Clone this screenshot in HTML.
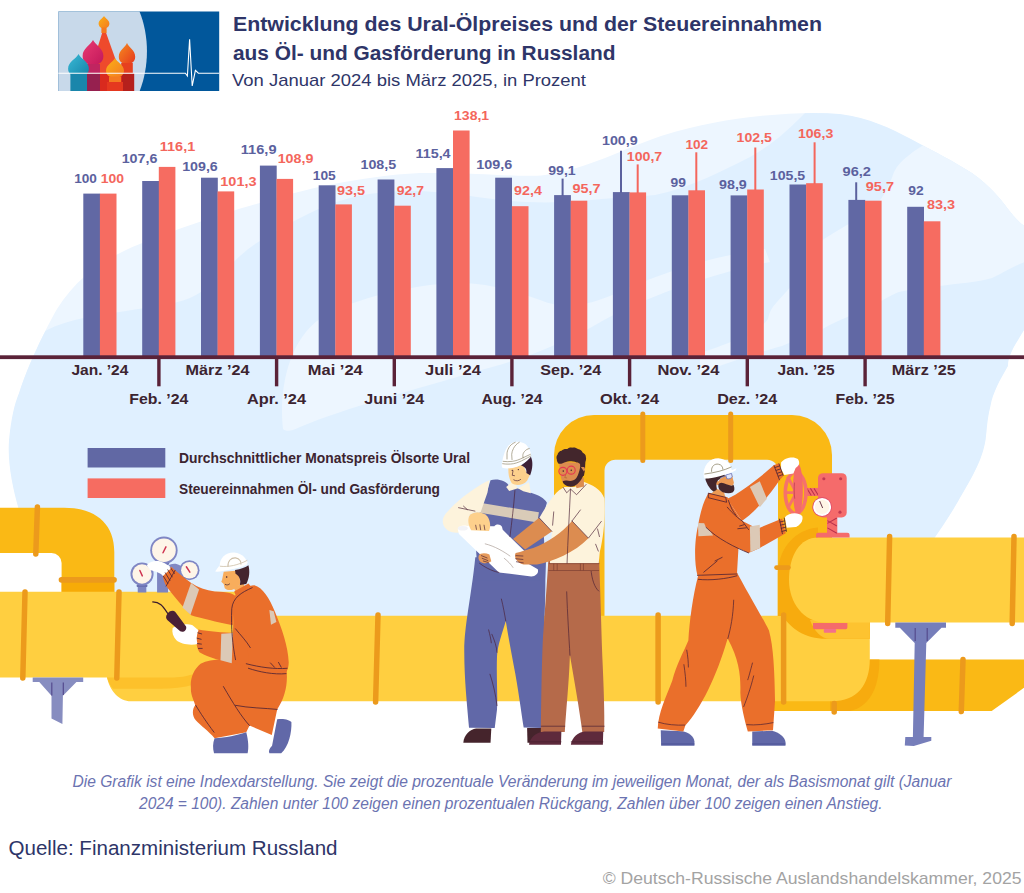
<!DOCTYPE html>
<html lang="de"><head><meta charset="utf-8"><title>Ural-Ölpreis und Steuereinnahmen</title>
<style>
html,body{margin:0;padding:0;background:#fff;}
body{width:1024px;height:893px;overflow:hidden;font-family:"Liberation Sans",sans-serif;}
svg{display:block;font-family:"Liberation Sans",sans-serif;}
</style></head><body>
<svg width="1024" height="893" viewBox="0 0 1024 893">
<rect width="1024" height="893" fill="#ffffff"/>
<!-- background blob -->
<g>
<defs><clipPath id="blobclip"><path d="M22 520 C14 495 7 465 9 440 C11 420 14 405 19 393 C28 365 45 330 57 309 C75 280 100 262 126 250 C160 235 220 214 260 203 C300 190 360 176 420 173 C480 172 520 178 545 175 C590 168 620 150 661 136 C700 124 730 119 760 116 C790 113 815 112 840 114 C870 118 890 128 911 139 C935 152 955 162 972 173 C990 186 1000 198 1008 209 C1016 219 1020 223 1026 227 V327 C1015 345 1008 355 1008 366 C1000 380 993 392 990.5 406 C987 420 987 430 985.6 440 C983 455 978 465 973 475 C966 488 960 498 953.6 509 C947 520 940 530 934 538.7 V617 H63 V545 H22 Z"/></clipPath></defs>
<path d="M22 520 C14 495 7 465 9 440 C11 420 14 405 19 393 C28 365 45 330 57 309 C75 280 100 262 126 250 C160 235 220 214 260 203 C300 190 360 176 420 173 C480 172 520 178 545 175 C590 168 620 150 661 136 C700 124 730 119 760 116 C790 113 815 112 840 114 C870 118 890 128 911 139 C935 152 955 162 972 173 C990 186 1000 198 1008 209 C1016 219 1020 223 1026 227 V327 C1015 345 1008 355 1008 366 C1000 380 993 392 990.5 406 C987 420 987 430 985.6 440 C983 455 978 465 973 475 C966 488 960 498 953.6 509 C947 520 940 530 934 538.7 V617 H63 V545 H22 Z" fill="#edf6ff"/>
<g clip-path="url(#blobclip)">
<path d="M22 520 C14 495 7 465 9 440 C11 420 14 405 19 393 C26 370 36 348 45 331 C70 318 100 315 126 311 C150 307 172 305 190 298 C208 290 218 278 228 268 C240 255 250 247 260 241 C290 222 320 206 350 198 C390 188 430 190 470 196 C510 202 540 204 580 201 C610 198 635 197 655 195 C690 188 720 172 750 157 C775 143 790 128 805 113 C820 112 830 113 840 114 C870 118 890 128 911 139 C935 152 955 162 972 173 C990 186 1000 198 1008 209 C1016 219 1020 223 1026 227 V327 C1015 345 1008 355 1008 366 C1000 380 993 392 990.5 406 C987 420 987 430 985.6 440 C983 455 978 465 973 475 C966 488 960 498 953.6 509 C947 520 940 530 934 538.7 V617 H63 V545 H22 Z" fill="#e0f0ff"/>
<!-- lighter river top right -->
<path d="M930 141 C915 150 900 160 894 172 C888 190 880 202 873 208 C860 218 845 226 824 239 C812 250 800 272 791 286 C780 300 770 306 768 319 C760 330 745 340 731 342 C720 346 710 350 700 353 L700 373 C730 362 760 352 782 346 C795 340 806 337 815 334 C826 326 836 322 845 318 C856 313 866 310 876 304 C890 296 896 292 904 291 C920 288 930 287 940 286 C960 283 980 282 992 278 C1005 272 1015 265 1030 260 V120 H930 Z" fill="#edf6ff"/>
<!-- lighter lens middle -->
<path d="M283 429 C279 395 286 342 321 318 C350 300 400 288 440 284 C480 280 510 290 540 300 C560 308 580 308 610 296 C650 278 700 258 765 249 L770 262 C705 275 645 298 604 320 C560 346 520 360 474 372 C420 388 345 408 300 427 C293 431 286 432 283 429 Z" fill="#edf6ff"/>
</g>
</g>

<!-- logo -->
<g>
<defs><clipPath id="lgc"><rect x="58.4" y="11.4" width="160.8" height="79.6"/></clipPath>
<linearGradient id="dm1" x1="0" y1="0" x2="1" y2="1"><stop offset="0" stop-color="#fbb116"/><stop offset="1" stop-color="#f37a21"/></linearGradient>
<linearGradient id="dm2" x1="0" y1="0" x2="1" y2="1"><stop offset="0" stop-color="#ea3a72"/><stop offset="1" stop-color="#c2185b"/></linearGradient>
<linearGradient id="dm3" x1="0" y1="0" x2="1" y2="1"><stop offset="0" stop-color="#3bbad6"/><stop offset="1" stop-color="#1583a8"/></linearGradient>
<linearGradient id="dm4" x1="0" y1="0" x2="1" y2="1"><stop offset="0" stop-color="#f68b1f"/><stop offset="1" stop-color="#e5381f"/></linearGradient>
</defs>
<g clip-path="url(#lgc)">
<rect x="58" y="11" width="162" height="81" fill="#01579b"/>
<path d="M58 11H139.3C149.5 36 149.5 66 139.3 92H58Z" fill="#c8d9ea"/>
<!-- central tower -->
<path d="M104 27 L120 72 L120 92 L90 92 L90 72 Z" fill="#ee4a2c"/>
<path d="M104 16c1.700000000000003 2.700000000000003 5.4 4.2 5.4 7.6c0 3.200000000000003-2.400000000000002 4.800000000000001-5.4 4.800000000000001s-5.4-1.600000000000001-5.4-4.8c0-3.400000000000002 3.700000000000003-4.900000000000002 5.4-7.6z" fill="url(#dm1)"/>
<rect x="101.4" y="27.5" width="5.2" height="5.5" fill="#f47a20"/>
<!-- pink dome -->
<path d="M93 40c2.400000000000002 5.2 10.4 8.2 10.4 16c0 6.2-4.6 8.8-10.4 8.8s-10.4-2.600000000000001-10.4-8.8c0-7.800000000000004 8-10.8 10.4-16z" fill="url(#dm2)"/>
<rect x="85" y="64" width="15" height="9.2" fill="#c02560"/>
<rect x="85" y="73.2" width="15" height="19" fill="#96204f"/>
<!-- right orange dome -->
<path d="M127 43c2 4.6 8.2 7.2 8.2 13.8c0 5.2-3.700000000000003 7.2-8.2 7.2s-8.2-2-8.2-7.2c0-6.600000000000001 6.2-9.2 8.2-13.8z" fill="url(#dm4)"/>
<rect x="121.2" y="63" width="11.6" height="10.2" fill="#e6401f"/>
<rect x="121.2" y="73.2" width="13" height="19" fill="#b5201c"/>
<rect x="100" y="73.2" width="22" height="19" fill="#d92a1e"/>
<!-- teal dome -->
<path d="M78.5 54c2.400000000000002 5 10.4 7.6 10.4 14.8c0 5.600000000000001-4.700000000000003 7.600000000000001-10.4 7.600000000000001s-10.4-2-10.4-7.600000000000001c0-7.200000000000003 8-9.8 10.4-14.8z" fill="url(#dm3)"/>
<rect x="70.4" y="73.2" width="16.6" height="19" fill="#1a86ab"/>
<!-- yellow dome -->
<path d="M115 58c2 4.2 9 6.6 9 12.8c0 4.800000000000001-4.200000000000003 6.8-9 6.8s-9-2-9-6.8c0-6.200000000000003 7-8.600000000000001 9-12.8z" fill="url(#dm1)"/>
<rect x="109" y="76.5" width="12" height="6" fill="#f47a20"/>
<rect x="107" y="82" width="16" height="10" fill="#e5381f"/>
<path d="M58 73.2H185.4l2 2.800000000000001l2.200000000000003-36.8l2.6 46.8l3.200000000000003-15.600000000000001l3 2.8H220" fill="none" stroke="#fff" stroke-width="1.1" stroke-linejoin="miter"/>
</g>
</g>

<!-- title -->
<g fill="#2e3568">
<text x="233" y="31" font-weight="bold" font-size="20" textLength="589" lengthAdjust="spacingAndGlyphs">Entwicklung des Ural-Ölpreises und der Steuereinnahmen</text>
<text x="233" y="60" font-weight="bold" font-size="20" textLength="382.5" lengthAdjust="spacingAndGlyphs">aus Öl- und Gasförderung in Russland</text>
<text x="232" y="85.8" font-size="16.6" textLength="354" lengthAdjust="spacingAndGlyphs">Von Januar 2024 bis März 2025, in Prozent</text>
</g>

<!-- pipes back -->
<g>
<!-- arch pipe (dark) -->
<path d="M554 640 V455 A40 40 0 0 1 594 415 H792 A40 40 0 0 1 832 455 V620 H778 V472 A11 11 0 0 0 767 459.7 H616 A11 11 0 0 0 604.5 471 V640 Z" fill="#fab915"/>
<!-- arch rings -->
<g stroke="#ec9a1c" stroke-width="5" stroke-linecap="round">
<line x1="642.8" y1="414" x2="642.8" y2="460.5"/>
<line x1="730.7" y1="414" x2="730.7" y2="460.5"/>
</g>
<!-- upper-left pipe (dark) -->
<path d="M0 507.7 H64 C96 507.7 114.3 524 114.3 552 V594 H61.6 V563 A10 10 0 0 0 51.6 553.1 H0 Z" fill="#fab915"/>
<rect x="61.6" y="582" width="52.7" height="12" fill="#f7ab07"/>
<g stroke="#ec9a1c" stroke-linecap="round">
<line x1="37.4" y1="507" x2="35.8" y2="554" stroke-width="5.5"/>
<line x1="61.5" y1="579.8" x2="114" y2="579.8" stroke-width="5.7"/>
</g>
<!-- dark back pipe bottom right -->
<path d="M770 659.6 H1024 V687.8 L991.7 711.1 H770 Z" fill="#fab915"/>
<!-- elbow band bottom -->
<path d="M869.8 659.5 H879.4 C879.4 690 868 707 850 711 H830 V700 Z" fill="#f7ab0e"/>
<!-- main light pipe -->
<path d="M0 591.7 H236 C256 592 252 615.7 272 615.7 H869.8 V659 C869.8 685 857 701.3 832 701.3 H131 C119 701.3 110 691 107 677.5 H0 Z" fill="#ffcf40"/>
<path d="M107 677.5 H170 C180 677.5 186 676.5 194 674 V684.5 C184 687.5 172 688.7 160 688.7 H113 C110.5 686 108.5 682 107 677.5 Z" fill="#fdc12b"/>
<!-- right leg down + band -->
<path d="M777.8 530 H832 V616 H777.8 Z" fill="#fab915"/>
<path d="M818 527.5 C796 529 777.8 548 777.8 575 V616 H783 C790 628 805 638.8 826 638.8 H869.8 V616 H818 Z" fill="#f7ab0e"/>
<path d="M810 620 C814 631 821 638.8 830 638.8 H869.8 V620 Z" fill="#fdc330"/>
<!-- big right light pipe with cap -->
<path d="M1024 537.4 H818 C800 537.4 789 555 789 580 C789 602 803 622.6 826 622.6 H1024 Z" fill="#ffcf40"/>
<!-- rings -->
<g stroke="#ec9a1c" stroke-linecap="round" stroke-width="5.5">
<line x1="25" y1="592" x2="22.8" y2="678"/>
<line x1="119" y1="592" x2="116.8" y2="678"/>
<line x1="658.1" y1="615" x2="658.1" y2="702"/>
<line x1="378" y1="615" x2="375.6" y2="702"/>
<line x1="783.6" y1="615" x2="783.6" y2="702"/>
<line x1="889.6" y1="536.5" x2="887.7" y2="623.5"/>
<line x1="1014" y1="536.5" x2="1012.2" y2="623.5"/>
<line x1="963" y1="659.5" x2="961.3" y2="711.5"/>
<line x1="834.2" y1="703.5" x2="834.2" y2="712"/>
<line x1="776.5" y1="567.6" x2="788.5" y2="567.6" stroke-width="4.6"/>
</g>
<!-- red flanges -->
<path d="M816 537.5 V535 a2.200000000000001 2.2 0 0 1 2.2-2.2 H847.4 a2.2 2.2 0 0 1 2.2 2.2 V537.5 Z" fill="#f56b6b"/>
<path d="M813 623.1 H847.4 V627.5 a1.7 1.7 0 0 1-1.7 1.7 H814.7 a1.7 1.7 0 0 1-1.7-1.7 Z" fill="#f56b6b"/>
<rect x="823.8" y="629" width="12.3" height="3.8" rx="1" fill="#f3708a"/>
<!-- supports -->
<g fill="#767eba">
<path d="M32.7 677.4 H83.2 V682 H76.4 L62.9 695.8 L62.4 724 L51.5 718.4 V695.8 L39.3 682 H32.7 Z" fill="#878dc0"/>
<path d="M895.3 622.6 H946 V627.8 H941.5 L926.3 643 L923.6 737.1 H931.3 V740.7 L913.8 746.1 L904.8 745.5 L905.3 737.1 H912.9 L914.7 643 L899.8 627.8 H895.3 Z"/>
</g>
<g stroke="#554b8e" stroke-width="1.2" fill="none">
<path d="M51.8 682.5 V695.5 M63.3 682.5 V695"/>
<path d="M915.2 628 V641 M927.2 628 V641"/>
</g>
</g>

<!-- chart -->
<g>
<rect x="83.3" y="193.6" width="16.8" height="162.9" fill="#6168a4"/>
<rect x="99.9" y="193.6" width="16.6" height="162.9" fill="#f66c61"/>
<rect x="142.2" y="181.0" width="16.8" height="175.5" fill="#6168a4"/>
<rect x="158.8" y="166.9" width="16.6" height="189.6" fill="#f66c61"/>
<rect x="201.0" y="177.7" width="16.8" height="178.8" fill="#6168a4"/>
<rect x="217.6" y="191.4" width="16.6" height="165.1" fill="#f66c61"/>
<rect x="259.9" y="165.6" width="16.8" height="190.9" fill="#6168a4"/>
<rect x="276.5" y="178.9" width="16.6" height="177.6" fill="#f66c61"/>
<rect x="318.7" y="185.3" width="16.8" height="171.2" fill="#6168a4"/>
<rect x="335.3" y="204.4" width="16.6" height="152.1" fill="#f66c61"/>
<rect x="377.6" y="179.5" width="16.8" height="177.0" fill="#6168a4"/>
<rect x="394.2" y="205.7" width="16.6" height="150.8" fill="#f66c61"/>
<rect x="436.4" y="168.1" width="16.8" height="188.4" fill="#6168a4"/>
<rect x="453.0" y="130.5" width="16.6" height="226.0" fill="#f66c61"/>
<rect x="495.2" y="177.7" width="16.8" height="178.8" fill="#6168a4"/>
<rect x="511.9" y="206.2" width="16.6" height="150.3" fill="#f66c61"/>
<rect x="554.1" y="195.1" width="16.8" height="161.4" fill="#6168a4"/>
<rect x="570.7" y="200.7" width="16.6" height="155.8" fill="#f66c61"/>
<rect x="612.9" y="192.1" width="16.8" height="164.4" fill="#6168a4"/>
<rect x="629.5" y="192.4" width="16.6" height="164.1" fill="#f66c61"/>
<rect x="671.8" y="195.3" width="16.8" height="161.2" fill="#6168a4"/>
<rect x="688.4" y="190.3" width="16.6" height="166.2" fill="#f66c61"/>
<rect x="730.6" y="195.4" width="16.8" height="161.1" fill="#6168a4"/>
<rect x="747.2" y="189.5" width="16.6" height="167.0" fill="#f66c61"/>
<rect x="789.5" y="184.5" width="16.8" height="172.0" fill="#6168a4"/>
<rect x="806.1" y="183.2" width="16.6" height="173.3" fill="#f66c61"/>
<rect x="848.4" y="199.9" width="16.8" height="156.6" fill="#6168a4"/>
<rect x="865.0" y="200.7" width="16.6" height="155.8" fill="#f66c61"/>
<rect x="907.2" y="206.8" width="16.8" height="149.7" fill="#6168a4"/>
<rect x="923.8" y="221.3" width="16.6" height="135.2" fill="#f66c61"/>
</g>
<g><line x1="562.6" y1="178.6" x2="562.6" y2="196" stroke="#5b619e" stroke-width="2"/>
<line x1="621" y1="150.8" x2="621" y2="193" stroke="#5b619e" stroke-width="2"/>
<line x1="637.7" y1="164.4" x2="637.7" y2="193" stroke="#f4665c" stroke-width="2"/>
<line x1="696.3" y1="152.3" x2="696.3" y2="191" stroke="#f4665c" stroke-width="2"/>
<line x1="755.3" y1="147.5" x2="755.3" y2="190" stroke="#f4665c" stroke-width="2"/>
<line x1="814.6" y1="142.3" x2="814.6" y2="184" stroke="#f4665c" stroke-width="2"/>
<line x1="856.2" y1="182.3" x2="856.2" y2="200" stroke="#5b619e" stroke-width="2"/></g>
<g><rect x="0" y="355.3" width="1024" height="3.8" fill="#5a2238"/>
<rect x="157.2" y="357" width="3.4" height="29.3" fill="#5a2238"/>
<rect x="274.9" y="357" width="3.4" height="29.3" fill="#5a2238"/>
<rect x="392.6" y="357" width="3.4" height="29.3" fill="#5a2238"/>
<rect x="510.2" y="357" width="3.4" height="29.3" fill="#5a2238"/>
<rect x="627.9" y="357" width="3.4" height="29.3" fill="#5a2238"/>
<rect x="745.6" y="357" width="3.4" height="29.3" fill="#5a2238"/>
<rect x="863.4" y="357" width="3.4" height="29.3" fill="#5a2238"/></g>
<g font-weight="bold" font-size="13.2">
<text x="74.2" y="182.6" fill="#5b619e" textLength="22.7" lengthAdjust="spacingAndGlyphs">100</text>
<text x="100.8" y="182.6" fill="#f4665c" textLength="23.3" lengthAdjust="spacingAndGlyphs">100</text>
<text x="121.7" y="162.6" fill="#5b619e" textLength="35.7" lengthAdjust="spacingAndGlyphs">107,6</text>
<text x="159.8" y="150.5" fill="#f4665c" textLength="35.4" lengthAdjust="spacingAndGlyphs">116,1</text>
<text x="182.2" y="171.4" fill="#5b619e" textLength="35.6" lengthAdjust="spacingAndGlyphs">109,6</text>
<text x="220.3" y="185.6" fill="#f4665c" textLength="36.3" lengthAdjust="spacingAndGlyphs">101,3</text>
<text x="240.8" y="154.4" fill="#5b619e" textLength="35.7" lengthAdjust="spacingAndGlyphs">116,9</text>
<text x="277.7" y="162.9" fill="#f4665c" textLength="35.7" lengthAdjust="spacingAndGlyphs">108,9</text>
<text x="312.8" y="180.1" fill="#5b619e" textLength="23.0" lengthAdjust="spacingAndGlyphs">105</text>
<text x="336.9" y="195.3" fill="#f4665c" textLength="28.1" lengthAdjust="spacingAndGlyphs">93,5</text>
<text x="360.5" y="168.6" fill="#5b619e" textLength="35.7" lengthAdjust="spacingAndGlyphs">108,5</text>
<text x="396.8" y="195.3" fill="#f4665c" textLength="27.2" lengthAdjust="spacingAndGlyphs">92,7</text>
<text x="415.5" y="157.5" fill="#5b619e" textLength="35.1" lengthAdjust="spacingAndGlyphs">115,4</text>
<text x="454.1" y="119.5" fill="#f4665c" textLength="35.0" lengthAdjust="spacingAndGlyphs">138,1</text>
<text x="476.3" y="168.6" fill="#5b619e" textLength="36.0" lengthAdjust="spacingAndGlyphs">109,6</text>
<text x="514.1" y="194.6" fill="#f4665c" textLength="27.8" lengthAdjust="spacingAndGlyphs">92,4</text>
<text x="548.2" y="174.5" fill="#5b619e" textLength="27.5" lengthAdjust="spacingAndGlyphs">99,1</text>
<text x="572.4" y="192.9" fill="#f4665c" textLength="28.1" lengthAdjust="spacingAndGlyphs">95,7</text>
<text x="602.0" y="144.8" fill="#5b619e" textLength="35.7" lengthAdjust="spacingAndGlyphs">100,9</text>
<text x="626.8" y="160.5" fill="#f4665c" textLength="35.4" lengthAdjust="spacingAndGlyphs">100,7</text>
<text x="670.6" y="187.1" fill="#5b619e" textLength="15.4" lengthAdjust="spacingAndGlyphs">99</text>
<text x="685.4" y="149.0" fill="#f4665c" textLength="22.7" lengthAdjust="spacingAndGlyphs">102</text>
<text x="719.0" y="188.6" fill="#5b619e" textLength="27.8" lengthAdjust="spacingAndGlyphs">98,9</text>
<text x="736.6" y="142.3" fill="#f4665c" textLength="35.4" lengthAdjust="spacingAndGlyphs">102,5</text>
<text x="769.8" y="180.1" fill="#5b619e" textLength="35.4" lengthAdjust="spacingAndGlyphs">105,5</text>
<text x="797.9" y="137.8" fill="#f4665c" textLength="35.4" lengthAdjust="spacingAndGlyphs">106,3</text>
<text x="842.6" y="175.6" fill="#5b619e" textLength="28.4" lengthAdjust="spacingAndGlyphs">96,2</text>
<text x="865.8" y="191.3" fill="#f4665c" textLength="28.2" lengthAdjust="spacingAndGlyphs">95,7</text>
<text x="908.2" y="195.3" fill="#5b619e" textLength="15.4" lengthAdjust="spacingAndGlyphs">92</text>
<text x="926.9" y="208.9" fill="#f4665c" textLength="28.1" lengthAdjust="spacingAndGlyphs">83,3</text>
</g>
<g font-weight="bold" font-size="15.5" fill="#3c2430">
<text x="99.9" y="375.2" text-anchor="middle" textLength="57" lengthAdjust="spacingAndGlyphs">Jan. ’24</text>
<text x="158.8" y="403.6" text-anchor="middle" textLength="59" lengthAdjust="spacingAndGlyphs">Feb. ’24</text>
<text x="217.6" y="375.2" text-anchor="middle" textLength="64" lengthAdjust="spacingAndGlyphs">März ’24</text>
<text x="276.5" y="403.6" text-anchor="middle" textLength="59" lengthAdjust="spacingAndGlyphs">Apr. ’24</text>
<text x="335.3" y="375.2" text-anchor="middle" textLength="55" lengthAdjust="spacingAndGlyphs">Mai ’24</text>
<text x="394.2" y="403.6" text-anchor="middle" textLength="60" lengthAdjust="spacingAndGlyphs">Juni ’24</text>
<text x="453.0" y="375.2" text-anchor="middle" textLength="56" lengthAdjust="spacingAndGlyphs">Juli ’24</text>
<text x="511.9" y="403.6" text-anchor="middle" textLength="61" lengthAdjust="spacingAndGlyphs">Aug. ’24</text>
<text x="570.7" y="375.2" text-anchor="middle" textLength="61" lengthAdjust="spacingAndGlyphs">Sep. ’24</text>
<text x="629.5" y="403.6" text-anchor="middle" textLength="59" lengthAdjust="spacingAndGlyphs">Okt. ’24</text>
<text x="688.4" y="375.2" text-anchor="middle" textLength="62" lengthAdjust="spacingAndGlyphs">Nov. ’24</text>
<text x="747.2" y="403.6" text-anchor="middle" textLength="60" lengthAdjust="spacingAndGlyphs">Dez. ’24</text>
<text x="806.1" y="375.2" text-anchor="middle" textLength="57" lengthAdjust="spacingAndGlyphs">Jan. ’25</text>
<text x="865.0" y="403.6" text-anchor="middle" textLength="59" lengthAdjust="spacingAndGlyphs">Feb. ’25</text>
<text x="923.8" y="375.2" text-anchor="middle" textLength="64" lengthAdjust="spacingAndGlyphs">März ’25</text>
</g>
<!-- legend -->
<g>
<rect x="87.6" y="448" width="77.7" height="19.5" fill="#6168a4"/>
<rect x="87.6" y="478.4" width="77.7" height="19.6" fill="#f66c61"/>
<g font-weight="bold" font-size="14.2" fill="#3c2430">
<text x="179" y="462.5" textLength="291" lengthAdjust="spacingAndGlyphs">Durchschnittlicher Monatspreis Ölsorte Ural</text>
<text x="179" y="493.5" textLength="261" lengthAdjust="spacingAndGlyphs">Steuereinnahmen Öl- und Gasförderung</text>
</g>
</g>

<!-- people -->
<g transform="translate(120,520) scale(0.268657)">
<!-- gauges -->
<g>
<rect x="66" y="240" width="32" height="30" fill="#7d85c1"/>
<rect x="62" y="240" width="40" height="9" rx="2" fill="#6a71b2"/>
<rect x="138" y="150" width="41" height="120" fill="#7d85c1"/>
<rect x="134" y="158" width="49" height="8" fill="#6a71b2"/>
<path d="M179 172 C196 156 228 162 240 190 L215 218 C205 202 192 198 179 206 Z" fill="#8088c4"/>
<circle cx="163.5" cy="112.5" r="51" fill="#7f86c4"/><circle cx="163.5" cy="112.5" r="44" fill="#fef5e8"/>
<circle cx="82" cy="201" r="43" fill="#7f86c4"/><circle cx="82" cy="201" r="36" fill="#fef5e8"/>
<circle cx="258.5" cy="187" r="37.5" fill="#7f86c4"/><circle cx="258.5" cy="187" r="31" fill="#fef5e8"/>
<g stroke="#cf3350" stroke-width="5.5" stroke-linecap="round">
<line x1="160" y1="122" x2="171" y2="100"/><line x1="74" y1="188" x2="83" y2="208"/><line x1="247" y1="174" x2="260" y2="194"/>
</g>
</g>
<!-- back boot -->
<path d="M585 742 C610 738 632 745 638 752 C640 790 628 845 600 868 L556 868 C552 860 556 850 566 840 Z" fill="#6168a8"/>
<!-- legs -->
<path d="M300 535 C275 555 260 590 264 625 C262 650 276 672 280 690 C268 705 268 730 282 745 C300 765 330 785 352 812 L470 790 L482 765 L565 800 L585 705 C615 660 625 610 620 560 L470 530 C400 515 340 515 300 535 Z" fill="#ea6f2b"/>
<!-- front boot -->
<path d="M352 812 C345 830 345 850 350 868 L475 868 C480 850 478 820 470 790 C440 800 390 812 352 812 Z" fill="#6168a8"/>
<!-- torso -->
<path d="M425 283 C450 272 475 243 500 243 C530 250 557 292 577 342 C602 402 626 470 628 530 C627 556 620 572 600 578 L478 552 C440 540 420 520 418 500 Z" fill="#ea6f2b"/>
<!-- raised arm -->
<path d="M190 174 C176 180 160 196 160 210 C162 225 168 238 172 246 C200 285 240 330 265 355 C300 366 360 380 420 392 L432 287 C425 272 400 268 353 266 C320 262 290 252 264 234 C245 220 222 200 205 187 Z" fill="#ea6f2b"/>
<path d="M264.4 234.2 L294.4 258.6 L262.5 352.4 L232.5 326.1 Z" fill="#dcc9b6"/>
<!-- forearm -->
<path d="M292 408 C330 415 380 420 430 420 L470 432 L482 548 L420 532 C380 526 330 512 296 492 C280 470 282 430 292 408 Z" fill="#ea6f2b"/>
<path d="M377 423 L420 421 L416 533 L374 522 Z" fill="#dcc9b6"/>
<path d="M556 335 L572 340 L582 380 L562 390 Z" fill="#dcc9b6"/>
<!-- glove on gauge -->
<path d="M100 168 C112 152 140 148 160 158 C178 166 190 175 190 180 L160 208 C150 196 130 190 112 186 Z" fill="#ffffff"/>
<!-- glove holding device -->
<path d="M196 402 C215 388 250 385 270 392 L292 410 C284 430 284 450 290 462 C260 468 225 462 210 448 C198 434 192 418 196 402 Z" fill="#ffffff"/>
<!-- device -->
<path d="M176 350 C182 338 198 334 206 342 L246 396 C250 410 236 420 224 414 L176 372 C170 366 170 358 176 350 Z" fill="#4a2035"/>
<path d="M122 305 C150 305 160 322 178 348" fill="none" stroke="#3a1a2c" stroke-width="4.5" stroke-linecap="round"/>
<!-- neck + face -->
<path d="M424 252 L458 232 L470 262 L434 280 Z" fill="#f8ad5c"/>
<path d="M386 193 L380 222 L377 230 L386 238 L390 254 C400 264 420 263 432 252 L448 236 L442 188 Z" fill="#f8ad5c"/>
<path d="M428 186 C450 182 468 176 478 168 C484 190 482 215 470 238 L446 242 C452 222 442 206 430 200 Z" fill="#45252e"/>
<path d="M425 266 L478 236 L494 254 L432 284 Z" fill="#ea6f2b"/>
<circle cx="397" cy="212" r="3" fill="#3a1a2c"/>
<path d="M392 240 C398 243 404 242 408 238" fill="none" stroke="#3a1a2c" stroke-width="2.5" stroke-linecap="round"/>
<!-- helmet -->
<path d="M354 192 C380 194 432 182 476 160 L470 148 C430 168 392 176 368 172 Z" fill="#ffffff"/>
<path d="M371 177 C368 142 394 120 425 121 C456 124 474 146 473 166 C440 182 402 188 371 177 Z" fill="#ffffff"/>
<path d="M402 174 C400 152 414 140 430 141 C446 143 452 156 450 166" fill="none" stroke="#cdbfa8" stroke-width="4"/>
<path d="M372 172 C404 176 440 168 474 150" fill="none" stroke="#cdbfa8" stroke-width="3"/>
<!-- outlines -->
<g fill="none" stroke="#4a2035" stroke-width="3" stroke-linecap="round" stroke-linejoin="round">
<path d="M492 252 C450 270 420 290 416 330 C412 400 420 470 430 520"/>
<path d="M430 405 C450 430 470 450 485 475"/>
<path d="M478 552 C520 566 570 576 618 572"/>
<path d="M470 535 C520 548 575 556 622 552"/>
<path d="M385 620 C420 680 450 730 482 765"/>
<path d="M282 690 C300 720 320 750 350 790"/>
<path d="M430 690 C480 700 540 700 585 705"/>
<path d="M188.2 177.9 L202.5 198.6 M178.1 185.4 L194.2 211.7 M168.7 196.7 L185.6 224.8 M161.9 209.8 L178.1 236.1 M205.1 187.3 L171.7 245.8"/>
<path d="M290 420 L304 424 M287 440 L302 444 M288 460 L303 462 M292 478 L306 478"/>
<path d="M560 532 L575 548 M590 530 L600 548"/>
</g>
</g>

<g transform="translate(430,430) scale(0.190381)">
<!-- ===== lower bodies (coords: second zoom, shifted by 787.9) ===== -->
<g transform="translate(0,787.9)">
<!-- worker2 shoes -->
<path d="M175 855 C178 812 210 786 242 780 L322 780 L318 855 Z" fill="#45242c"/>
<path d="M510 778 L590 778 L590 855 L512 855 Z" fill="#45242c"/>
<!-- blue pants -->
<path d="M238 -120 L610 -120 L606 0 C606 120 600 250 594 400 L586 778 L492 775 C480 700 462 560 440 450 C425 370 410 290 398 215 C380 280 355 340 352 400 C348 500 356 600 352 680 L340 778 L205 776 C195 660 180 520 180 380 C178 250 215 100 238 -120 Z" fill="#6168a8"/>
<!-- brown pants -->
<path d="M622 -110 L888 -110 C895 60 900 250 905 400 C912 550 918 700 915 798 L800 798 C785 680 760 540 735 395 C730 540 715 680 708 798 L582 798 C584 650 586 480 592 330 C600 200 612 60 622 -110 Z" fill="#b56a4a"/>
<!-- brown shoes -->
<path d="M520 866 C524 826 560 800 600 796 L690 796 L688 866 Z" fill="#5e2a3c"/>
<path d="M740 866 C744 826 780 800 812 796 L910 796 L908 866 Z" fill="#5e2a3c"/>
<g fill="none" stroke="#4a2035" stroke-width="3.5" stroke-linecap="round">
<path d="M375 100 C385 140 392 180 398 215"/>
<path d="M308 262 C315 290 320 310 322 330 M325 285 C340 320 350 350 352 380"/>
<path d="M315 495 C330 540 345 600 352 660"/>
<path d="M718 62 C722 180 730 300 735 395"/>
<path d="M845 -60 C850 0 865 40 886 58"/>
<path d="M585 768 L708 768 M800 768 L915 768"/>
<path d="M522 850 L688 850 M742 850 L908 850" stroke="#45202f"/>
</g>
</g>
<!-- ===== worker 2 upper ===== -->
<!-- vest -->
<path d="M318 264 C350 255 400 262 420 300 L462 306 L530 330 C572 342 602 360 614 382 C600 430 588 480 598 560 C604 630 596 680 580 700 L575 790 L230 790 C238 740 246 700 244 660 C240 620 246 590 255 560 L262 430 L300 320 Z" fill="#6168a8"/>
<!-- stripe -->
<path d="M270 384 L572 432 L564 486 L262 434 Z" fill="#d9cbb8"/>
<!-- sleeve -->
<path d="M312 264 C250 290 140 370 82 440 C52 478 70 522 112 536 C150 546 200 532 216 520 L204 452 C222 430 250 425 266 432 L302 328 Z" fill="#fdf3dc"/>
<!-- collar -->
<path d="M400 300 L436 268 L462 306 L416 320 Z M462 306 L520 274 L530 332 L490 322 Z" fill="#fdf3dc"/>
<!-- man arm 1 (behind paper) -->
<path d="M572 462 L642 532 L500 628 L436 572 Z" fill="#dc8c50"/>
<!-- shirt -->
<path d="M706 300 C660 320 622 380 574 462 L640 532 L630 702 L886 702 L892 640 C912 560 922 450 916 360 C902 312 850 286 802 270 L760 300 Z" fill="#fdf3dc"/>
<!-- paper -->
<path d="M146 522 C150 505 170 498 196 504 L338 506 C345 494 368 492 378 508 L382 524 L496 636 L446 662 L566 732 C572 748 560 766 532 770 L362 748 L152 546 Z" fill="#ffffff"/>
<ellipse cx="172" cy="516" rx="26" ry="12" fill="#f3f3f6"/>
<!-- hand with pencil -->
<path d="M206 452 C226 426 270 426 300 452 C318 476 320 510 310 530 L216 526 C200 500 198 472 206 452 Z" fill="#fdd08c"/>
<!-- left hand under paper -->
<path d="M256 660 C262 646 290 644 312 654 L322 690 C310 702 280 704 266 694 C256 684 252 672 256 660 Z" fill="#e59a5b"/>
<!-- man arm 2 -->
<path d="M746 478 L832 568 C762 642 642 692 562 706 L492 706 C452 700 440 662 450 646 C480 642 512 626 542 620 C622 590 692 540 746 478 Z" fill="#dc8c50"/>
<!-- belt area brown -->
<path d="M626 700 L888 700 L888 740 L624 740 Z" fill="#b56a4a"/>
<!-- worker 2 face -->
<path d="M412 198 C410 230 416 260 430 280 C452 296 490 290 510 266 L526 234 L506 224 C500 200 490 188 480 184 C456 194 430 200 412 198 Z" fill="#fdd08c"/>
<path d="M478 186 C500 172 520 152 530 140 C542 166 540 202 526 238 L506 226 C510 206 500 192 478 186 Z" fill="#3d2035"/>
<!-- helmet -->
<path d="M376.8 189.4 C378 170 382 152 386 137.1 C392 116 398 100 407.5 87.8 C420 72 434 64 450.6 62 C466 60 482 63 493.7 69.4 C506 76 515 88 521.4 100.1 C526 110 530 120 530.7 130.9 L527.6 140.1 C520 150 510 160 499.9 167.8 C486 178 472 186 456.8 192.5 C440 198 424 201 407.5 201.7 C398 202 388 201 379.8 198.6 Z" fill="#ffffff"/>
<g fill="none" stroke="#8d8468" stroke-width="3.5" stroke-linecap="round">
<path d="M447.6 64.4 C430 72 420 82 413.7 94 C408 104 405 114 404.5 124.8 L404.5 152.5"/>
<path d="M469.1 64.4 C455 72 445 84 438.3 97.1 C433 107 430 117 429.1 127.8 L430.9 155.5"/>
<path d="M521.4 97.1 C511 100 503 105 496.8 112.4 C491 119 488 126 487.6 134 L488.8 146.3"/>
<path d="M384.1 164.8 C400 167 416 167 432.2 164.8 C452 162 470 155 487.6 146.3 C502 140 515 134 527.6 127.8"/>
<path d="M381.7 177.1 C400 180 420 180 438.3 177.1 C458 173 476 165 493.7 155.5 C506 149 518 143 529.4 137.1"/>
</g>
<!-- man head -->
<path d="M758.4 272.5 L807.7 247.9 L809 297 L770 306 Z" fill="#dc8c50"/>
<path d="M678.4 177.1 L684.6 229.4 C686 245 690 258 693.8 266.3 C700 284 715.3 294 746.1 297.1 C765 294 783 276 792.300000000000011 229.4 L789.2 172 L690 168 Z" fill="#dc8c50"/>
<path d="M789.2 174 L817 149.4 L813.8 210.9 L808.5 240 L792.3 243 Z" fill="#43262c"/>
<circle cx="802" cy="206" r="12.5" fill="#dc8c50"/>
<path d="M696.9 269.4 C699.9 287.9 721.5 300.2 749.2 297.1 C773.8 291 792.3 269.4 807.7 235.6 L806 214 L789.2 190 C788 204.8 780 235.6 767.7 254 C755.4 269.4 733.8 269.4 718.4 265.1 C709.2 263.9 701.8 266.3 696.9 269.4 Z" fill="#43262c"/>
<path d="M666.1 155.5 C662 142 666 134 669.2 130.9 C672 118 682 110 690.7 109.4 C698 100 712 98 721.5 100.1 C730 92 740 91 746.1 92.7 C758 90 770 94 776.9 100.1 C790 102 798 110 801.5 118.6 C812 124 820 134 818.8 143.2 C822 152 818 162 813.8 167.800000000000011 C815 180 812 190 810.8 195 L789.2 192 L789.2 180.2 C784 174 778 171 770.7 170.9 C758 166 745 164.8 733.8 164.8 C720 166 708 170 696.9 174 C690 178 682 178 675.3 177.1 C670 172 666.1 164 666.1 155.5 Z" fill="#43262c"/>
<g fill="none" stroke="#e63950" stroke-width="6"><circle cx="698.1" cy="217.1" r="21"/><circle cx="741.8" cy="211" r="21"/></g>
<circle cx="700" cy="216" r="4" fill="#43262c"/><circle cx="742" cy="211" r="4" fill="#43262c"/>
<path d="M712 236 L708 250 L720 252" fill="none" stroke="#a85a30" stroke-width="3"/>
<!-- details lines -->
<g fill="none" stroke="#4a2035" stroke-width="3.5" stroke-linecap="round" stroke-linejoin="round">
<path d="M150 408 L236 426 M176 400 L196 418"/>
<path d="M240 500 L244 522 M262 498 L266 524 M284 500 L288 524"/>
<path d="M436 215 L432 238 L444 240 M440 262 C452 270 466 268 476 260"/>
<path d="M446 318 C440 400 430 480 420 560"/>
<path d="M290 598 C340 610 390 640 420 662 M390 674 C410 690 425 705 436 722" stroke="#a89a92"/>
<path d="M270 660 L300 672 M274 674 L304 686 M280 688 L306 696"/>
<path d="M452 660 L488 662 M450 676 L488 680 M454 692 L490 698"/>
<path d="M700 302 L718 330 L738 310 L770 340 L820 286"/>
<path d="M738 312 C732 440 724 580 720 700"/>
<path d="M574 462 L640 532 M650 430 L644 500"/>
<path d="M746 478 L832 568 L900 480 M790 420 L746 478"/>
<path d="M880 520 L890 560 M870 600 L884 636"/>
<path d="M626 702 L888 702 M624 738 L886 738" stroke="#7a3d30"/>
<path d="M650 704 L650 736 M668 704 L668 736 M790 704 L790 736 M806 704 L806 736" stroke="#7a3d30"/>
<path d="M260 700 C300 730 340 745 362 748"/>
</g>
<circle cx="432" cy="212" r="3.5" fill="#3d2035"/><circle cx="464" cy="208" r="3.5" fill="#3d2035"/>
</g>

<g>
<!-- lower body -->
<g transform="translate(640,580) scale(0.201511)">
<path d="M103 745 L210 750 C240 755 268 775 270 800 L270 822 L105 822 Z" fill="#6168a8"/>
<path d="M557 752 L655 748 C690 755 720 780 722 805 L722 822 L557 822 Z" fill="#6168a8"/>
<path d="M105 814 L270 814 M557 814 L722 814" stroke="#4d5396" stroke-width="5" fill="none"/>
<path d="M288 -20 L470 -60 C520 40 600 170 640 250 C662 330 668 450 670 600 L660 745 L535 752 C520 700 500 620 498 560 C500 480 495 400 435 290 C380 480 300 640 225 722 L215 752 L88 737 C90 660 130 580 160 500 C180 420 215 360 240 300 C246 200 262 80 288 -20 Z" fill="#ea6f2b"/>
<g fill="none" stroke="#4a2035" stroke-width="3.5" stroke-linecap="round">
<path d="M465 100 C462 180 450 240 436 290"/>
<path d="M232 348 C238 380 240 410 240 432 M218 420 C224 460 228 500 228 528"/>
<path d="M558 412 C548 450 540 480 535 495 M564 476 C548 540 530 590 515 628"/>
<path d="M92 706 C130 718 180 722 222 720 M530 718 C575 722 620 716 660 708"/>
</g>
</g>
<!-- upper body + valve -->
<g transform="translate(650,440) scale(0.224033)">
<!-- valve stem + body -->
<rect x="688" y="214" width="66" height="36" fill="#f56b6b"/>
<path d="M700 216 L720 248 M716 216 L736 248 M732 216 L752 248" stroke="#b8324c" stroke-width="4.5"/>
<rect x="790" y="340" width="46" height="78" fill="#f56b6b"/>
<path d="M792 360 L834 384 M792 392 L834 416 M834 348 L792 372" stroke="#b8324c" stroke-width="4.5"/>
<rect x="750" y="148" width="128" height="198" rx="22" fill="#f56b6b"/>
<circle cx="776" cy="173" r="7" fill="#c23a50"/><circle cx="851" cy="173" r="7" fill="#c23a50"/><circle cx="848" cy="322" r="7" fill="#c23a50"/>
<circle cx="768.3" cy="298.7" r="44" fill="#e2526a"/><circle cx="768.3" cy="298.7" r="40" fill="#ffffff"/><circle cx="768.3" cy="298.7" r="32" fill="#fff5e6"/>
<path d="M758 274 L770 302" stroke="#5a2238" stroke-width="4" stroke-linecap="round"/>
<!-- wheel -->
<ellipse cx="650" cy="236" rx="46" ry="92" fill="none" stroke="#f6716c" stroke-width="16"/>
<path d="M652 234 L614 163 M652 235 L600 235 M652 236 L616 304" stroke="#f6716c" stroke-width="13" fill="none"/>
<ellipse cx="660" cy="221" rx="22" ry="115" fill="#f46a6a"/>
<path d="M645 190 C643 215 643 240 646 262" stroke="#a93048" stroke-width="2.5" fill="none"/>
<!-- torso -->
<path d="M262 236 L346 256 L352 268 C364 290 380 320 410 360 L440 400 L395 480 L388 600 L212 606 C195 540 200 440 215 380 C225 320 240 270 262 236 Z" fill="#ea6f2b"/>
<path d="M214 370 L246 372 L282 426 L216 430 Z" fill="#dcc9b6"/>
<!-- upper arm to wheel -->
<path d="M345 262 C400 240 500 160 554 112 L576 104 L596 160 L578 180 C540 240 470 320 410 362 Z" fill="#ea6f2b"/>
<path d="M446 210 L490 184 L522 262 L490 300 Z" fill="#dcc9b6"/>
<!-- lower arm -->
<path d="M240 310 C260 298 300 300 332 320 L480 396 L590 350 L606 416 L490 482 L440 504 C380 480 290 430 250 390 C235 360 232 330 240 310 Z" fill="#ea6f2b"/>
<path d="M446 386 L490 378 L492 482 L448 500 Z" fill="#dcc9b6"/>
<!-- gloves -->
<path d="M585 100 C600 80 640 70 660 85 C670 100 668 115 650 125 L640 150 L600 156 L585 130 Z" fill="#ffffff"/>
<path d="M602 345 C620 325 660 320 680 340 C685 360 670 380 650 388 L610 392 Z" fill="#ffffff"/>
<!-- head -->
<path d="M298.6 218 L331.1 234 L336 256 L272 240 Z" fill="#ec9a55"/>
<path d="M311.6 174.5 L334.4 160.2 L363.6 151.8 C368 160 370 168 370.1 174.5 L374.5 190 L371 203.7 L340.8 203 L318.1 196 L301.9 196 Z" fill="#ec9a55"/>
<circle cx="302.5" cy="192" r="9.5" fill="#ec9a55"/>
<path d="M246.7 171.3 L262.9 164.8 L308.4 155 L331.1 148.5 L334.4 161.5 C322 164 314 168 311.6 174.5 C304 178 299 186 296 194 C296 204 297 212 298.6 220 C294 226 288 229 282.4 229.7 C276 225 270 219 266.2 213.5 C260 206 256 198 253.2 190.8 C250 184 248 178 246.7 171.3 Z" fill="#43262c"/>
<path d="M305.1 199 C309 194 313 191.5 318.1 190.8 C326 192 333 194 340.8 197.3 C348 200 356 202 363.6 203.7 L373.3 200.5 C376 207 377 213 376.6 220 C376 226 373 230 370.1 233 C364 236 357 238 350.6 238.2 C342 238 333 236 324.6 233 C318 229 312 225 308.4 220 C305 213 304 206 305.1 199 Z" fill="#43262c"/>
<path d="M338 156 L364 149 L367 165 C362 172 352 175 343 173 Z" fill="#dfe6fb" stroke="#6870b8" stroke-width="3.5"/>
<path d="M312 170 L338 160" stroke="#6870b8" stroke-width="3" fill="none"/>
<!-- helmet -->
<path d="M240 166 C234 116 265 82 305 82 C340 84 362 108 365 135 L386 126 L382 136 C340 156 280 172 246 172 Z" fill="#ffffff"/>
<path d="M243 152 C290 146 330 136 364 120" fill="none" stroke="#8d8468" stroke-width="3.5"/>
<path d="M275 142 C272 116 290 105 305 108 C320 110 326 122 325 132" fill="none" stroke="#8d8468" stroke-width="3.5"/>
<g fill="none" stroke="#4a2035" stroke-width="3.5" stroke-linecap="round" stroke-linejoin="round">
<path d="M262 238 L338 256 L342 278 L262 258 Z" fill="#ea6f2b"/>
<path d="M350 270 C360 300 370 320 384 336"/>
<path d="M345 300 C370 330 395 350 412 362 L440 400"/>
<path d="M250 390 C300 440 380 480 440 504"/>
<path d="M392 396 L430 392 M400 384 L420 378"/>
<path d="M212 604 L388 598 M216 622 C270 628 340 620 388 606"/>
<path d="M290 540 L322 524 M240 590 L300 540"/>
<path d="M553.9 114.8 L577.9 177.8 M575.9 106.3 L594.1 158.3 M558.4 122.6 L577.9 116.1 M563 135.6 L582.4 129.1 M568.1 148.5 L587.6 142 M572.7 161.5 L590.9 155"/>
<path d="M577.9 353.1 L590.9 418 M599.3 348.6 L608.4 408.3 M580 366 L601 361 M583 380 L603.5 375 M586 394 L606 389 M589 408 L608 403"/>
</g>
</g>
</g>

<!-- footer -->
<g>
<g font-style="italic" font-size="15.6" fill="#6b73b1">
<text x="72.5" y="786.8" textLength="879" lengthAdjust="spacingAndGlyphs">Die Grafik ist eine Indexdarstellung. Sie zeigt die prozentuale Veränderung im jeweiligen Monat, der als Basismonat gilt (Januar</text>
<text x="139" y="809.3" textLength="743.5" lengthAdjust="spacingAndGlyphs">2024 = 100). Zahlen unter 100 zeigen einen prozentualen Rückgang, Zahlen über 100 zeigen einen Anstieg.</text>
</g>
<text x="8.5" y="855.2" font-size="20.5" fill="#2e3568" textLength="329" lengthAdjust="spacingAndGlyphs">Quelle: Finanzministerium Russland</text>
<text x="602.7" y="883.8" font-size="17" fill="#a3a3a3" textLength="418.8" lengthAdjust="spacingAndGlyphs">© Deutsch-Russische Auslandshandelskammer, 2025</text>
</g>

</svg>
</body></html>
